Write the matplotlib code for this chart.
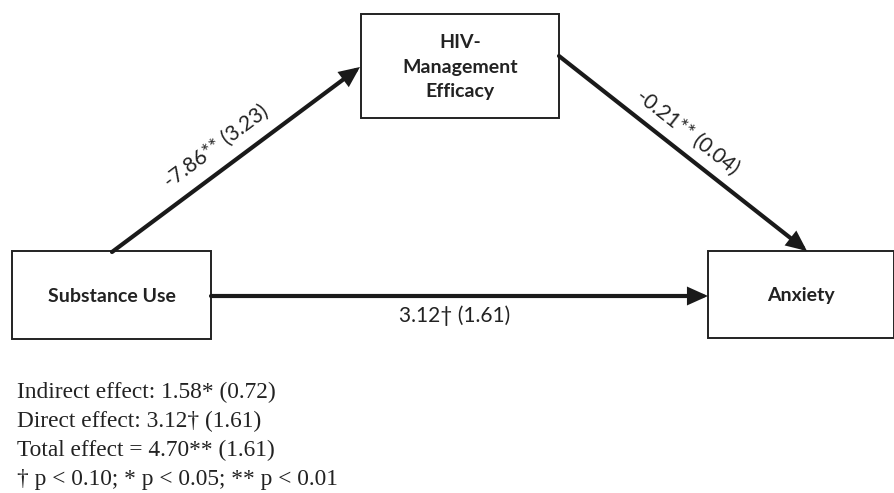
import numpy as np
import matplotlib
matplotlib.use("Agg")
import matplotlib.pyplot as plt
from matplotlib.patches import Rectangle, FancyArrowPatch, ArrowStyle

# ---- data ----
node_labels = ["Substance Use", "HIV-\nManagement\nEfficacy", "Anxiety"]
path_coef = [-7.86, -0.21, 3.12]      # a path, b path, c' path
path_se = [3.23, 0.04, 1.61]
path_sig = ["**", "**", "\u2020"]
effect_names = ["Indirect effect:", "Direct effect:", "Total effect ="]
effect_coef = [1.58, 3.12, 4.70]
effect_se = [0.72, 1.61, 1.61]
effect_sig = ["*", "\u2020", "**"]
sig_note = "\u2020 p < 0.10; * p < 0.05; ** p < 0.01"

# ---- layout (pixel coordinates, y downwards) ----
W, H = 895, 493
fig = plt.figure(figsize=(W / 100, H / 100), dpi=100)
ax = fig.add_axes([0, 0, 1, 1])
ax.set_xlim(0, W)
ax.set_ylim(H, 0)
ax.axis("off")

boxes = {  # x0, y0, x1, y1
    0: (12, 251, 211, 339),
    1: (361, 14, 559, 118),
    2: (708, 251, 894, 338),
}
box_font = dict(family=["Lato", "DejaVu Sans"], fontweight="bold", fontsize=14, color="#222222")
for i, (x0, y0, x1, y1) in boxes.items():
    ax.text((x0 + x1) / 2, (y0 + y1) / 2 + 1, node_labels[i], ha="center", va="center",
            linespacing=1.5, **box_font)
    ax.add_patch(Rectangle((x0, y0), x1 - x0, y1 - y0, fill=False, lw=1.4, ec="#222222"))

style = ArrowStyle("-|>", head_length=10, head_width=4.5)
paths = [((112, 252), (360, 67)), ((559, 56), (807, 251)), ((211, 296), (708, 296))]
for (p0, p1) in paths:
    ax.add_patch(FancyArrowPatch(p0, p1, arrowstyle=style, mutation_scale=1, lw=3,
                                 color="#1a1a1a", shrinkA=0, shrinkB=0, joinstyle="miter"))

lab_font = dict(family=["Lato", "DejaVu Sans"], fontsize=15, color="#222222")
label_pos = [(0.475, 22), (0.47, 20), (0.49, -20)]
for k, ((p0, p1), (t, off)) in enumerate(zip(paths, label_pos)):
    x0, y0 = p0
    x1, y1 = p1
    dx, dy = x1 - x0, y1 - y0
    L = np.hypot(dx, dy)
    ux, uy = dx / L, dy / L
    nx, ny = uy, -ux  # normal pointing "up" on screen for rightward lines
    cx = x0 + t * dx + off * nx
    cy = y0 + t * dy + off * ny
    ang = -np.degrees(np.arctan2(dy, dx))
    txt = f"{path_coef[k]:.2f}{path_sig[k]} ({path_se[k]:.2f})"
    ax.text(cx, cy, txt, rotation=ang, rotation_mode="anchor", ha="center", va="center", **lab_font)

foot_font = dict(family=["Liberation Serif", "DejaVu Serif"], fontsize=16.8, color="#222222")
baselines = [398, 427, 456, 485]
for i in range(3):
    ax.text(17, baselines[i], f"{effect_names[i]} {effect_coef[i]:.2f}{effect_sig[i]} ({effect_se[i]:.2f})",
            ha="left", va="baseline", **foot_font)
ax.text(17, baselines[3], sig_note, ha="left", va="baseline", **foot_font)

fig.savefig("out.png", dpi=100)
